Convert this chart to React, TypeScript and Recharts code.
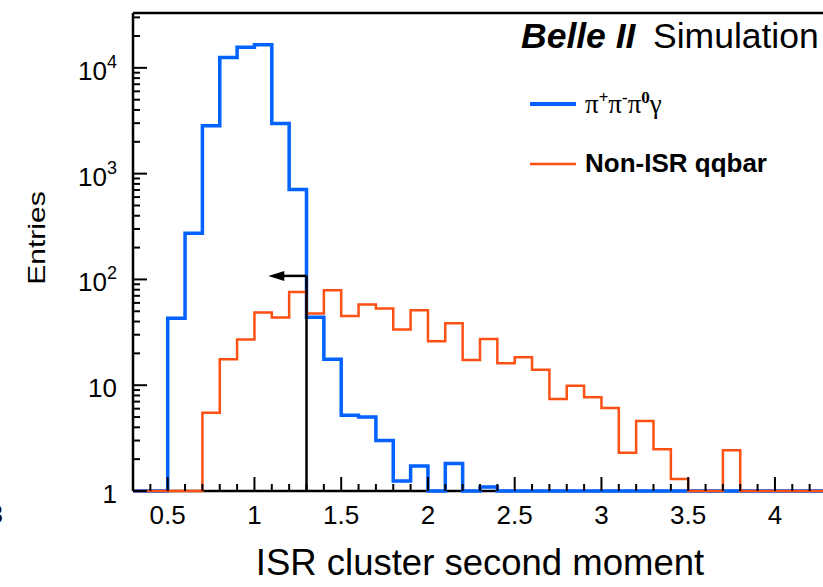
import { Line, LineChart, ReferenceLine, XAxis, YAxis } from "recharts";

// histogram bins: low edges, width 0.1, last bin ends at X_MAX
const BIN_LOW = [
  0.3, 0.4, 0.5, 0.6, 0.7, 0.8, 0.9, 1.0, 1.1, 1.2,
  1.3, 1.4, 1.5, 1.6, 1.7, 1.8, 1.9, 2.0, 2.1, 2.2,
  2.3, 2.4, 2.5, 2.6, 2.7, 2.8, 2.9, 3.0, 3.1, 3.2,
  3.3, 3.4, 3.5, 3.6, 3.7, 3.8, 3.9, 4.0, 4.1, 4.2,
];
const X_MIN = 0.3;
const X_MAX = 4.3;

// pi+ pi- pi0 gamma signal MC
const SIGNAL = [
  0, 0, 43, 273, 2830, 12500, 15700, 16500, 2980, 708,
  44, 17.6, 5.2, 5.0, 3.0, 1.24, 1.72, 0, 1.82, 0,
  1.09, 0, 0, 0, 0, 0, 0, 0, 0, 0,
  0, 0, 0, 0, 0, 0, 0, 0, 0, 0,
];

// non-ISR qqbar background
const QQBAR = [
  0, 0, 0, 0, 5.5, 17.6, 27, 48.6, 43.6, 76,
  47.6, 79, 45, 58, 53, 33.6, 51, 26, 38.6, 17.3,
  27.3, 16.1, 18.4, 14, 7.4, 9.9, 7.7, 6.1, 2.3, 4.6,
  2.48, 1.3, 0, 0, 2.43, 0, 0, 0, 0, 0,
];

const X_TICKS = [
  0.3, 0.4, 0.5, 0.6, 0.7, 0.8, 0.9, 1, 1.1, 1.2,
  1.3, 1.4, 1.5, 1.6, 1.7, 1.8, 1.9, 2, 2.1, 2.2,
  2.3, 2.4, 2.5, 2.6, 2.7, 2.8, 2.9, 3, 3.1, 3.2,
  3.3, 3.4, 3.5, 3.6, 3.7, 3.8, 3.9, 4, 4.1, 4.2, 4.3,
];
const X_MAJOR = [0.5, 1, 1.5, 2, 2.5, 3, 3.5, 4];
const X_LABELS = ["0.5", "1", "1.5", "2", "2.5", "3", "3.5", "4"];

const Y_MIN = 1;
const Y_MAX = 33000;
const Y_TICKS = [
  1, 2, 3, 4, 5, 6, 7, 8, 9,
  10, 20, 30, 40, 50, 60, 70, 80, 90,
  100, 200, 300, 400, 500, 600, 700, 800, 900,
  1000, 2000, 3000, 4000, 5000, 6000, 7000, 8000, 9000,
  10000, 20000, 30000,
];
const Y_MAJOR = [1, 10, 100, 1000, 10000];
const Y_LABELS = [["1", ""], ["10", ""], ["10", "2"], ["10", "3"], ["10", "4"]];

// selection cut with arrow pointing to the kept region
const CUT = 1.3;
const ARROW_END = 1.08;
const ARROW_Y = 108;

const BLUE = "#0062ff";
const ORANGE = "#ff5014";
const SANS = "'Liberation Sans', Arial, sans-serif";
const SERIF = "'Liberation Serif', 'Times New Roman', serif";

// empty bins sit on the log axis floor
const rows = BIN_LOW.map((x, i) => ({
  x,
  signal: Math.max(SIGNAL[i], Y_MIN),
  qqbar: Math.max(QQBAR[i], Y_MIN),
}));
rows.push({ ...rows[rows.length - 1], x: X_MAX });

function XTick({ x, y, payload }: any) {
  const idx = X_MAJOR.findIndex((m) => Math.abs(m - payload.value) < 1e-6);
  const major = idx >= 0;
  return (
    <g>
      <line x1={x} x2={x} y1={y} y2={y - (major ? 14 : 7)} stroke="#000" strokeWidth={2} />
      {major && (
        <text x={x} y={y + 33} textAnchor="middle" fontSize={26} fontFamily={SANS} fill="#000">
          {X_LABELS[idx]}
        </text>
      )}
    </g>
  );
}

function YTick({ x, y, payload }: any) {
  const idx = Y_MAJOR.findIndex((m) => Math.abs(m - payload.value) < 1e-6);
  const major = idx >= 0;
  return (
    <g>
      <line x1={x} x2={x + (major ? 14 : 7)} y1={y} y2={y} stroke="#000" strokeWidth={2} />
      {major && (
        <text x={x - 16} y={y + 12} textAnchor="end" fontSize={26} fontFamily={SANS} fill="#000">
          {Y_LABELS[idx][0]}
          {Y_LABELS[idx][1] && (
            <tspan dy={-12} fontSize={18}>
              {Y_LABELS[idx][1]}
            </tspan>
          )}
        </text>
      )}
    </g>
  );
}

function Arrow(props: any) {
  const { x1, y1, x2, y2 } = props;
  const dir = x2 < x1 ? -1 : 1;
  return (
    <g>
      <line x1={x1} y1={y1} x2={x2 - dir * 8} y2={y2} stroke="#000" strokeWidth={2.5} />
      <polygon
        points={`${x2},${y2} ${x2 - dir * 16},${y2 - 5} ${x2 - dir * 16},${y2 + 5}`}
        fill="#000"
      />
    </g>
  );
}

export default function App() {
  return (
    <div
      style={{
        position: "absolute",
        left: 0,
        top: 0,
        width: 823,
        height: 587,
        overflow: "hidden",
        background: "#fff",
      }}
    >
      <div style={{ position: "absolute", left: 0, top: 0 }}>
        <LineChart width={850} height={587} data={rows} margin={{ top: 13, right: 23, bottom: 36, left: 73 }}>
          <XAxis
            dataKey="x"
            type="number"
            domain={[X_MIN, X_MAX]}
            ticks={X_TICKS}
            interval={0}
            tickSize={0}
            tickMargin={0}
            tickLine={false}
            tick={<XTick />}
            axisLine={false}
            height={60}
          />
          <YAxis
            type="number"
            scale="log"
            domain={[Y_MIN, Y_MAX]}
            ticks={Y_TICKS}
            interval={0}
            tickSize={0}
            tickMargin={0}
            tickLine={false}
            tick={<YTick />}
            axisLine={{ stroke: "#000", strokeWidth: 2.5 }}
            width={60}
          />
          <ReferenceLine y={Y_MIN} stroke="#000" strokeWidth={2.5} />
          <ReferenceLine y={Y_MAX} stroke="#000" strokeWidth={2.5} />
          <Line
            type="stepAfter"
            dataKey="signal"
            stroke={BLUE}
            strokeWidth={3.5}
            dot={false}
            activeDot={false}
            isAnimationActive={false}
          />
          <Line
            type="stepAfter"
            dataKey="qqbar"
            stroke={ORANGE}
            strokeWidth={2.5}
            dot={false}
            activeDot={false}
            isAnimationActive={false}
          />
          <ReferenceLine
            segment={[
              { x: CUT, y: Y_MIN },
              { x: CUT, y: ARROW_Y },
            ]}
            stroke="#000"
            strokeWidth={2.5}
          />
          <ReferenceLine
            segment={[
              { x: CUT, y: ARROW_Y },
              { x: ARROW_END, y: ARROW_Y },
            ]}
            shape={<Arrow />}
          />
        </LineChart>
      </div>
      <svg
        width={823}
        height={587}
        style={{ position: "absolute", left: 0, top: 0, pointerEvents: "none" }}
      >
        <text x={521} y={48} fontSize={35.5} fontFamily={SANS} fontWeight="bold" fontStyle="italic">
          Belle II
        </text>
        <text x={653} y={48} fontSize={35.5} fontFamily={SANS}>
          Simulation
        </text>

        <line x1={530} x2={576} y1={104} y2={104} stroke={BLUE} strokeWidth={4} />
        <text x={585} y={113} fontSize={27} fontFamily={SERIF}>
          π
          <tspan dy={-10} fontSize={17} fontWeight="bold">+</tspan>
          <tspan dy={10}>π</tspan>
          <tspan dy={-10} fontSize={17} fontWeight="bold">-</tspan>
          <tspan dy={10}>π</tspan>
          <tspan dy={-10} fontSize={17} fontWeight="bold">0</tspan>
          <tspan dy={10}>γ</tspan>
        </text>
        <line x1={530} x2={576} y1={164} y2={164} stroke={ORANGE} strokeWidth={2.5} />
        <text x={585} y={172} fontSize={26} fontFamily={SANS} fontWeight="bold">
          Non-ISR qqbar
        </text>

        <text x={480} y={575} textAnchor="middle" fontSize={36.5} fontFamily={SANS}>
          ISR cluster second moment
        </text>
        <text
          transform="translate(45,238) rotate(-90) scale(1,0.8)"
          textAnchor="middle"
          fontSize={30}
          fontFamily={SANS}
        >
          Entries
        </text>
        <text x={3} y={523} textAnchor="end" fontSize={26} fontFamily={SANS}>
          3
        </text>
      </svg>
    </div>
  );
}
